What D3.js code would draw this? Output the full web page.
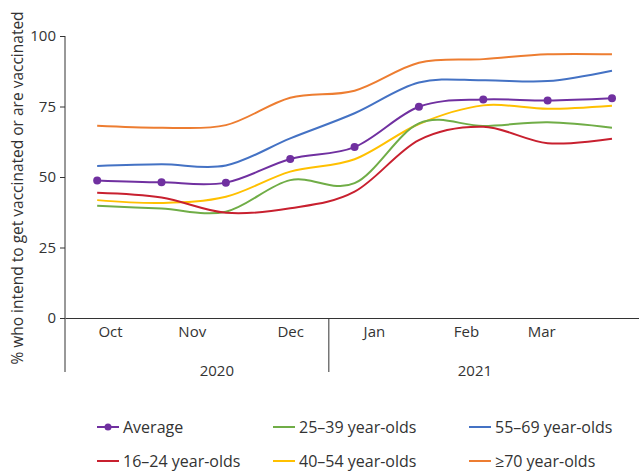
<!DOCTYPE html>
<html>
<head>
<meta charset="utf-8">
<script src="https://cdn.jsdelivr.net/npm/d3@7"></script>
<style>
  body { margin: 0; background: #fff; }
  svg text { font-family: "Open Sans", Lato, sans-serif; fill: #333; }
</style>
</head>
<body>
<div id="chart"></div>
<script>
// survey waves (index 0..8), values in %
var waves = [0, 1, 2, 3, 4, 5, 6, 7, 8];
var average   = [48.8, 48.1, 48.0, 56.4, 60.6, 74.9, 77.5, 77.1, 77.9];
var age16_24  = [44.4, 42.7, 37.3, 38.9, 44.8, 63.1, 67.8, 62.0, 63.6];
var age25_39  = [39.8, 38.8, 37.7, 48.9, 47.8, 69.0, 68.1, 69.4, 67.5];
var age40_54  = [41.8, 40.8, 43.0, 51.9, 56.3, 68.8, 75.4, 74.2, 75.3];
var age55_69  = [53.9, 54.5, 54.1, 63.7, 72.6, 83.5, 84.3, 84.0, 87.7];
var age70plus = [68.2, 67.5, 68.4, 78.1, 80.6, 90.5, 91.8, 93.5, 93.5];

var monthLabels = ["Oct", "Nov", "Dec", "Jan", "Feb", "Mar"];
var monthPos    = [0.2, 1.47, 3.0, 4.3, 5.73, 6.9];
var yearLabels  = ["2020", "2021"];
var yearPos     = [1.86, 5.87];
var yearBreak   = 3.6;
var yTicks      = [0, 25, 50, 75, 100];

var seriesNames  = ["Average", "16\u201324 year-olds", "25\u201339 year-olds", "40\u201354 year-olds", "55\u201369 year-olds", "\u226570 year-olds"];
var seriesColors = ["#7030a0", "#c8202f", "#70ad47", "#ffc000", "#4472c4", "#ed7d31"];
var seriesValues = [average, age16_24, age25_39, age40_54, age55_69, age70plus];

var width = 639, height = 473;

var svg = d3.select("#chart").append("svg")
    .attr("width", width)
    .attr("height", height);

var x = d3.scaleLinear().domain([-0.5, 8.42]).range([65, 639]);
var y = d3.scaleLinear().domain([0, 100]).range([318, 36]);

// y axis
var yAxis = svg.append("g")
    .attr("transform", "translate(65,0)")
    .call(d3.axisLeft(y).tickValues(yTicks).tickSize(5).tickPadding(4));
yAxis.select(".domain").remove();
yAxis.selectAll("line").attr("stroke", "#333");
yAxis.selectAll("text").style("font-size", "15px").style("fill", "#333");

svg.append("line")
    .attr("x1", 65).attr("x2", 65)
    .attr("y1", y(100)).attr("y2", 372)
    .attr("stroke", "#333");

// x axis
var xAxis = svg.append("g")
    .attr("transform", "translate(0," + y(0) + ")")
    .call(d3.axisBottom(x).tickValues(monthPos)
        .tickFormat(function(d, i) { return monthLabels[i]; })
        .tickSize(0).tickPadding(8).tickSizeOuter(0));
xAxis.select(".domain").attr("stroke", "#333");
xAxis.selectAll("text").style("font-size", "15px").style("fill", "#333");

svg.append("line")
    .attr("x1", x(yearBreak)).attr("x2", x(yearBreak))
    .attr("y1", y(0)).attr("y2", 372)
    .attr("stroke", "#333");

svg.selectAll(".year")
    .data(yearLabels)
    .enter()
    .append("text")
    .attr("class", "year")
    .attr("x", function(d, i) { return x(yearPos[i]); })
    .attr("y", 376)
    .attr("text-anchor", "middle")
    .style("font-size", "15px")
    .text(function(d) { return d; });

svg.append("text")
    .attr("transform", "rotate(-90)")
    .attr("x", -188)
    .attr("y", 23)
    .attr("text-anchor", "middle")
    .style("font-size", "15.5px")
    .text("% who intend to get vaccinated or are vaccinated");

// lines
var line = d3.line()
    .x(function(d, i) { return x(waves[i]); })
    .y(function(d) { return y(d); })
    .curve(d3.curveCardinal.tension(0));

var drawOrder = [5, 4, 3, 2, 1, 0];
drawOrder.forEach(function(k) {
    svg.append("path")
        .datum(seriesValues[k])
        .attr("fill", "none")
        .attr("stroke", seriesColors[k])
        .attr("stroke-width", 2)
        .attr("d", line);
});

svg.selectAll(".avgdot")
    .data(average)
    .enter()
    .append("circle")
    .attr("class", "avgdot")
    .attr("cx", function(d, i) { return x(waves[i]); })
    .attr("cy", function(d) { return y(d); })
    .attr("r", 4)
    .attr("fill", seriesColors[0]);

// legend
var legendX = [97, 273, 469];
var legendY = [427, 461];
var legendOrder = [0, 2, 4, 1, 3, 5];
legendOrder.forEach(function(k, j) {
    var col = j % 3, row = Math.floor(j / 3);
    var g = svg.append("g")
        .attr("transform", "translate(" + legendX[col] + "," + legendY[row] + ")");
    g.append("line")
        .attr("x1", 0).attr("x2", 22)
        .attr("y1", 0).attr("y2", 0)
        .attr("stroke", seriesColors[k])
        .attr("stroke-width", 2);
    if (k === 0) {
        g.append("circle").attr("cx", 11).attr("cy", 0).attr("r", 3.5).attr("fill", seriesColors[k]);
    }
    g.append("text")
        .attr("x", 26)
        .attr("y", 0)
        .attr("dy", "0.35em")
        .style("font-size", "16px")
        .text(seriesNames[k]);
});
</script>
</body>
</html>
